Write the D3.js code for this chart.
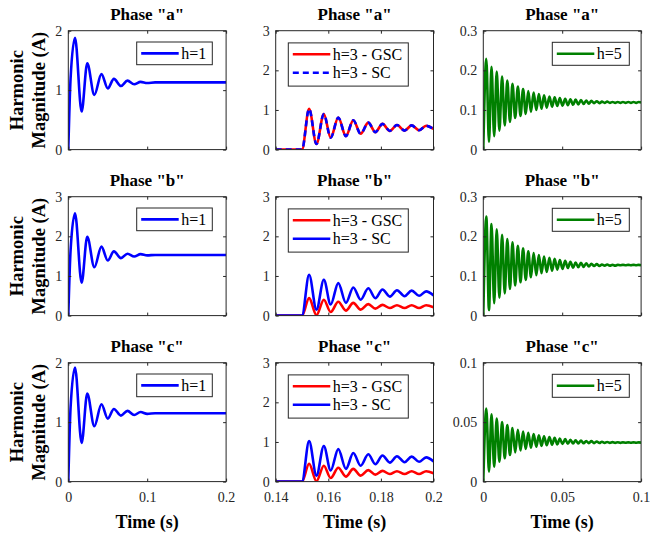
<!DOCTYPE html>
<html><head><meta charset="utf-8">
<script src="https://cdn.jsdelivr.net/npm/d3@7"></script>
<style>
html,body{margin:0;padding:0;background:#fff;}
svg{display:block;}
svg text{font-family:"Liberation Serif","DejaVu Serif",serif !important;}
</style></head>
<body><svg id="c" width="651" height="533"></svg>
<script>
// ---------- DATA ----------
const phaseTitles = ['Phase "a"', 'Phase "b"', 'Phase "c"'];
const yAxisLabel = ["Harmonic", "Magnitude (A)"];
const xAxisLabel = "Time (s)";

// h=1 (column 1)
const tH1 = [0, 0.0029, 0.0085, 0.0169, 0.024, 0.033, 0.042, 0.050, 0.0578, 0.0667, 0.075, 0.0835, 0.0916, 0.100, 0.110, 0.2];
const h1A = [0, 1.20, 1.88, 0.64, 1.45, 0.92, 1.27, 1.03, 1.19, 1.07, 1.16, 1.10, 1.14, 1.12, 1.13, 1.13];
const h1B = [0, 1.65, 2.58, 0.83, 1.99, 1.22, 1.74, 1.39, 1.62, 1.45, 1.56, 1.49, 1.55, 1.52, 1.53, 1.53];
const h1C = [0, 1.25, 1.92, 0.65, 1.48, 0.93, 1.30, 1.06, 1.22, 1.11, 1.19, 1.12, 1.17, 1.14, 1.15, 1.15];

// h=3 (column 2)
const tH3 = [0.14, 0.1500, 0.1527, 0.1555, 0.1583, 0.1609, 0.1638, 0.1667, 0.1695, 0.1723, 0.1752, 0.1779, 0.1806, 0.1834, 0.1861, 0.1890, 0.1917, 0.1945, 0.1972, 0.2];
const h3GscA = [0, 0, 1.03, 0.14, 0.90, 0.30, 0.81, 0.34, 0.74, 0.40, 0.68, 0.44, 0.65, 0.47, 0.62, 0.48, 0.61, 0.49, 0.60, 0.52];
const h3ScA  = [0, 0, 1.03, 0.14, 0.90, 0.30, 0.81, 0.34, 0.74, 0.40, 0.68, 0.44, 0.65, 0.47, 0.62, 0.48, 0.61, 0.49, 0.60, 0.52];
const h3GscB = [0, 0, 0.44, 0.01, 0.40, 0.09, 0.35, 0.125, 0.32, 0.15, 0.29, 0.175, 0.27, 0.19, 0.26, 0.19, 0.26, 0.19, 0.26, 0.21];
const h3ScB  = [0, 0, 1.03, 0.15, 0.905, 0.28, 0.82, 0.32, 0.71, 0.40, 0.69, 0.44, 0.66, 0.48, 0.64, 0.49, 0.63, 0.50, 0.61, 0.51];
const h3GscC = [0, 0, 0.45, 0.01, 0.40, 0.09, 0.35, 0.125, 0.32, 0.15, 0.29, 0.175, 0.27, 0.19, 0.26, 0.19, 0.26, 0.19, 0.26, 0.21];
const h3ScC  = [0, 0, 1.02, 0.15, 0.90, 0.28, 0.82, 0.32, 0.72, 0.40, 0.69, 0.44, 0.66, 0.48, 0.64, 0.49, 0.63, 0.50, 0.61, 0.51];

// h=5 (column 3): extrema times
const tH5 = [0,
 0.0019,0.0036, 0.0052,0.0069, 0.0085,0.0102, 0.0119,0.0136, 0.0152,0.0169, 0.0185,0.0202,
 0.0219,0.0236, 0.0252,0.0269, 0.0285,0.0302, 0.0319,0.0336, 0.0352,0.0369, 0.0385,0.0402,
 0.0419,0.0436, 0.0452,0.0469, 0.0485,0.0502, 0.0519,0.0536, 0.0552,0.0569, 0.0585,0.0602,
 0.0619,0.0636, 0.0652,0.0669, 0.0685,0.0702, 0.0719,0.0736, 0.0752,0.0769, 0.0785,0.0802,
 0.0819,0.0836, 0.0852,0.0869, 0.0885,0.0902, 0.0919,0.0936, 0.0952,0.0969, 0.0985, 0.1];
const h5A = [0,
 0.229,0.019, 0.209,0.034, 0.197,0.048, 0.184,0.061, 0.174,0.070, 0.166,0.080,
 0.159,0.085, 0.153,0.090, 0.148,0.095, 0.144,0.100, 0.140,0.103, 0.137,0.106,
 0.134,0.108, 0.132,0.110, 0.130,0.111, 0.128,0.112, 0.127,0.113, 0.126,0.114,
 0.125,0.115, 0.124,0.116, 0.123,0.117, 0.122,0.117, 0.121,0.118, 0.121,0.118,
 0.120,0.118, 0.120,0.118, 0.120,0.118, 0.120,0.118, 0.120,0.118, 0.120, 0.119];
const h5B = [0,
 0.250,0.014, 0.231,0.031, 0.218,0.045, 0.204,0.056, 0.193,0.067, 0.185,0.076,
 0.176,0.084, 0.170,0.090, 0.162,0.097, 0.158,0.102, 0.153,0.107, 0.149,0.110,
 0.146,0.113, 0.143,0.116, 0.140,0.118, 0.138,0.120, 0.136,0.121, 0.134,0.122,
 0.133,0.123, 0.132,0.124, 0.131,0.125, 0.130,0.125, 0.129,0.126, 0.129,0.126,
 0.128,0.126, 0.128,0.127, 0.128,0.127, 0.128,0.127, 0.128,0.127, 0.128, 0.127];
const h5C = [0,
 0.0615,0.0084, 0.0565,0.0126, 0.053,0.0168, 0.050,0.0196, 0.0475,0.0224, 0.045,0.0245,
 0.0435,0.0262, 0.042,0.0275, 0.041,0.0285, 0.040,0.0293, 0.039,0.0300, 0.0382,0.0306,
 0.0375,0.0310, 0.0368,0.0313, 0.0362,0.0316, 0.0357,0.0318, 0.0352,0.0320, 0.0348,0.0321,
 0.0345,0.0322, 0.0342,0.0323, 0.034,0.0324, 0.0337,0.0325, 0.0335,0.0325, 0.0333,0.0326,
 0.0332,0.0326, 0.0331,0.0326, 0.033,0.0327, 0.033,0.0327, 0.033,0.0327, 0.033, 0.0328];

// tick values / labels
const xTicksCol = [[0, 0.1, 0.2], [0.14, 0.16, 0.18, 0.2], [0, 0.05, 0.1]];
const xTickLabelsCol = [["0","0.1","0.2"], ["0.14","0.16","0.18","0.2"], ["0","0.05","0.1"]];
const xDomainCol = [[0, 0.2], [0.14, 0.2], [0, 0.1]];
const yTicks = [
  [[0,1,2],[0,1,2,3],[0,0.1,0.2,0.3]],
  [[0,1,2,3],[0,1,2,3],[0,0.1,0.2,0.3]],
  [[0,1,2],[0,1,2,3],[0,0.05,0.1]]];
const yTickLabels = [
  [["0","1","2"],["0","1","2","3"],["0","0.1","0.2","0.3"]],
  [["0","1","2","3"],["0","1","2","3"],["0","0.1","0.2","0.3"]],
  [["0","1","2"],["0","1","2","3"],["0","0.05","0.1"]]];
const yDomain = [
  [[0,2],[0,3],[0,0.3]],
  [[0,3],[0,3],[0,0.3]],
  [[0,2],[0,3],[0,0.1]]];

const seriesNames = ["h=1", "h=3 - GSC", "h=3 - SC", "h=5"];
const colors = {blue:"#0000ff", red:"#ff0000", green:"#008000"};

// ---------- LAYOUT ----------
const FONT = '"Liberation Serif", "DejaVu Serif", serif';
const colLeft = [68.3, 275.7, 483.3], colW = 157.8;
const rowTop = [30.7, 196.7, 362.7], rowH = 118.9;
const ink = "#262626";

const svg = d3.select("#c");

const panels = [];
for (let r = 0; r < 3; r++) {
  const h1 = [h1A, h1B, h1C][r];
  const gsc = [h3GscA, h3GscB, h3GscC][r];
  const sc = [h3ScA, h3ScB, h3ScC][r];
  const h5 = [h5A, h5B, h5C][r];
  panels.push({r, c:0, series:[{t:tH1, v:h1, color:colors.blue, dash:null, name:seriesNames[0]}]});
  panels.push({r, c:1, series:[
    {t:tH3, v:gsc, color:colors.red, dash:null, name:seriesNames[1]},
    {t:tH3, v:sc, color:colors.blue, dash: r===0 ? "6,4" : null, name:seriesNames[2]}]});
  panels.push({r, c:2, series:[{t:tH5, v:h5, color:colors.green, dash:null, name:seriesNames[3]}]});
}

const legendBox = [
  {x:68.4, y:11.3, w:75.6, h:22.7},   // col 1 (relative to plot)
  {x:12.6, y:12.2, w:120, h:43.2},    // col 2
  {x:69.0, y:11.6, w:77, h:23}        // col 3
];

panels.forEach((p, i) => {
  const x0 = colLeft[p.c], y0 = rowTop[p.r];
  const g = svg.append("g").attr("transform", `translate(${x0},${y0})`);
  const x = d3.scaleLinear().domain(xDomainCol[p.c]).range([0, colW]);
  const y = d3.scaleLinear().domain(yDomain[p.r][p.c]).range([rowH, 0]);

  const clipId = "clip" + i;
  g.append("clipPath").attr("id", clipId).append("rect")
    .attr("x", 0).attr("y", 0).attr("width", colW).attr("height", rowH);

  // lines
  const line = d3.line().x(d => x(d[0])).y(d => y(d[1])).curve(d3.curveMonotoneX);
  const lg = g.append("g").attr("clip-path", `url(#${clipId})`);
  p.series.forEach(s => {
    const pts = s.t.map((t, k) => [t, s.v[k]]);
    lg.append("path").attr("d", line(pts)).attr("fill", "none")
      .attr("stroke", s.color).attr("stroke-width", 2.6)
      .attr("stroke-linejoin", "round")
      .attr("stroke-dasharray", s.dash);
  });

  // axes
  const xt = xTicksCol[p.c], xl = xTickLabelsCol[p.c];
  const yt = yTicks[p.r][p.c], yl = yTickLabels[p.r][p.c];
  const bottom = d3.axisBottom(x).tickValues(xt).tickSize(-3).tickPadding(10)
    .tickFormat((d, k) => p.r === 2 ? xl[k] : "");
  const top = d3.axisTop(x).tickValues(xt).tickSize(-3).tickFormat("");
  const left = d3.axisLeft(y).tickValues(yt).tickSize(-3).tickPadding(6)
    .tickFormat((d, k) => yl[k]);
  const right = d3.axisRight(y).tickValues(yt).tickSize(-3).tickFormat("");
  const styleAxis = a => {
    a.attr("font-family", FONT);
    a.select(".domain").remove();
    a.selectAll("line").attr("stroke", ink).attr("stroke-width", 1);
    a.selectAll("text").attr("fill", ink).attr("font-family", FONT).style("font-size", "14px");
  };
  g.append("g").attr("transform", `translate(0,${rowH})`).call(bottom).call(styleAxis);
  g.append("g").call(top).call(styleAxis);
  g.append("g").call(left).call(styleAxis);
  g.append("g").attr("transform", `translate(${colW},0)`).call(right).call(styleAxis);

  g.append("rect").attr("x", 0).attr("y", 0).attr("width", colW).attr("height", rowH)
    .attr("fill", "none").attr("stroke", ink).attr("stroke-width", 1);

  // title
  g.append("text").attr("x", colW / 2).attr("y", -10.5).attr("text-anchor", "middle")
    .attr("font-family", FONT)
    .style("font-size", "17px").style("font-weight", "bold").attr("fill", "#000")
    .text(phaseTitles[p.r]);

  // legend
  const lb = legendBox[p.c];
  const leg = g.append("g").attr("transform", `translate(${lb.x},${lb.y})`);
  leg.append("rect").attr("width", lb.w).attr("height", lb.h)
    .attr("fill", "#fff").attr("stroke", ink).attr("stroke-width", 1);
  p.series.forEach((s, k) => {
    const ly = 11.4 + k * 18.5;
    leg.append("line").attr("x1", 4.5).attr("x2", 42).attr("y1", ly).attr("y2", ly)
      .attr("stroke", s.color).attr("stroke-width", 2.6).attr("stroke-dasharray", s.dash);
    leg.append("text").attr("x", 44.5).attr("y", ly + 5.4).attr("font-family", FONT)
      .style("font-size", "16px").attr("fill", "#000").text(s.name);
  });

  // x label
  if (p.r === 2) {
    g.append("text").attr("x", colW / 2).attr("y", rowH + 46).attr("font-family", FONT)
      .attr("text-anchor", "middle").style("font-size", "18px").style("font-weight", "bold")
      .attr("fill", "#000").text(xAxisLabel);
  }
  // y label
  if (p.c === 0) {
    const yl = g.append("text").attr("transform", `translate(-23.5,${rowH / 2}) rotate(-90)`)
      .attr("font-family", FONT)
      .attr("text-anchor", "middle").style("font-size", "18.5px").style("font-weight", "bold")
      .attr("fill", "#000");
    yl.append("tspan").attr("x", 0).attr("y", -21.5).text(yAxisLabel[0]);
    yl.append("tspan").attr("x", 0).attr("y", 0).text(yAxisLabel[1]);
  }
});
</script></body></html>
